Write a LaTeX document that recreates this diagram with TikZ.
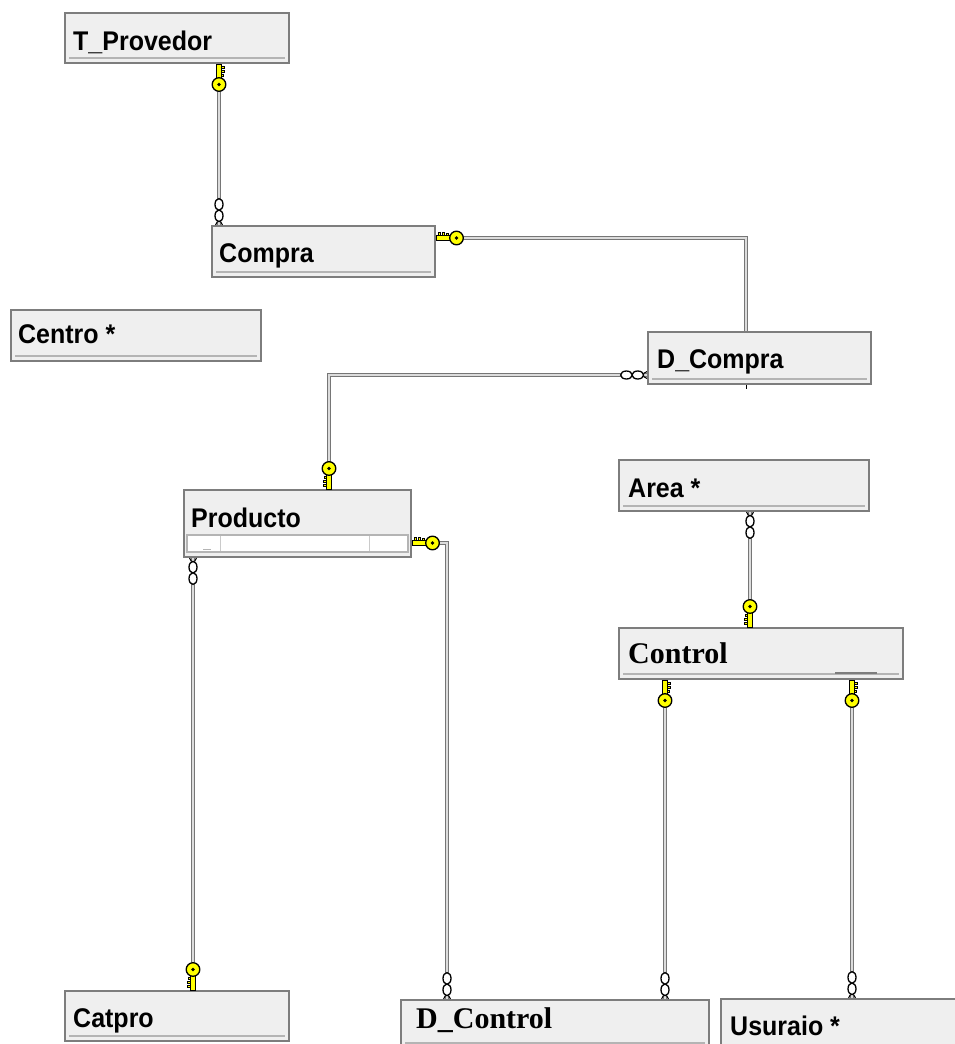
\documentclass[tikz,border=0pt]{standalone}
\usepackage{fontspec}
\newfontfamily\tahfont{Liberation Sans}
\newfontfamily\tmsfont{Liberation Serif}
\definecolor{boxfill}{HTML}{EFEFEF}
\definecolor{boxedge}{HTML}{7D7D7D}
\definecolor{innerln}{HTML}{B4B4B4}
\definecolor{connout}{HTML}{767676}
\definecolor{connin}{HTML}{DCDCDC}
\definecolor{keyyel}{HTML}{FFFF00}
\tikzset{
  tbl/.style={draw=boxedge, fill=boxfill, line width=2pt, inner sep=0pt, anchor=north west,
    path picture={\draw[innerln, line width=2.2pt]
      ([xshift=4pt,yshift=5pt]path picture bounding box.south west) --
      ([xshift=-4pt,yshift=5pt]path picture bounding box.south east);}},
  lblsans/.style={anchor=base west, inner sep=0pt, yscale=1.08, transform shape,
    font=\tahfont\bfseries\fontsize{25}{30}\selectfont},
  lblserif/.style={anchor=base west, inner sep=0pt, font=\tmsfont\bfseries\fontsize{30}{34}\selectfont},
  conn/.style={draw=connout, double=connin, line width=1.3pt, double distance=2.2pt},
  keysym/.pic={
    \draw[black, line width=1pt, fill=keyyel] (-2.4,0) rectangle (2.4,14.5);
    \draw[black, line width=0.8pt, fill=keyyel] (2.4,2.2) rectangle (5.2,4.6);
    \draw[black, line width=0.8pt, fill=keyyel] (2.4,6.4) rectangle (5.2,8.8);
    \draw[black, line width=0.8pt, fill=keyyel] (2.4,10.6) rectangle (4.2,12.4);
    \draw[black, line width=1.3pt, fill=keyyel] (0,20.5) circle (6.8pt);
    \fill[black] (0,20.5) circle (1.8pt);
  },
  chainsym/.pic={
    \draw[black, line width=1.1pt] (-3.4,0) -- (-1.6,3.5) (3.4,0) -- (1.6,3.5);
    \draw[black, line width=1.3pt, fill=white] (0,9.2) ellipse (4pt and 5.8pt);
    \draw[black, line width=1.3pt, fill=white] (0,20.6) ellipse (4pt and 5.8pt);
  }
}
\begin{document}
\begin{tikzpicture}[x=1pt,y=-1pt]
\useasboundingbox (0,0) rectangle (955,1044);
\clip (0,0) rectangle (955,1044);
\fill[white] (0,0) rectangle (955,1044);

% tables
\node[tbl, minimum width=224pt, minimum height=50pt] (tprov) at (64,12) {};
\node[tbl, minimum width=223pt, minimum height=51pt] (compra) at (211,225) {};
\node[tbl, minimum width=250pt, minimum height=51pt] (centro) at (10,309) {};
\node[tbl, minimum width=223pt, minimum height=52pt] (dcompra) at (647,331) {};
\node[tbl, minimum width=227pt, minimum height=67pt] (producto) at (183,489) {};
\node[tbl, minimum width=250pt, minimum height=51pt] (area) at (618,459) {};
\node[tbl, minimum width=284pt, minimum height=51pt] (control) at (618,627) {};
\node[tbl, minimum width=224pt, minimum height=50pt] (catpro) at (64,990) {};
\node[tbl, minimum width=308pt, minimum height=48pt] (dcontrol) at (400,999) {};
\node[tbl, minimum width=250pt, minimum height=55pt] (usuraio) at (720,998) {};

% Producto scroll strip
\draw[innerln, fill=white, line width=1.5pt] ([xshift=4pt,yshift=6pt]producto.south west) rectangle ([xshift=-4pt,yshift=23pt]producto.south east);
\draw[innerln!70, line width=1pt] ([xshift=37pt,yshift=7pt]producto.south west) -- ([xshift=37pt,yshift=22pt]producto.south west);
\draw[innerln!70, line width=1pt] ([xshift=186pt,yshift=7pt]producto.south west) -- ([xshift=186pt,yshift=22pt]producto.south west);
\draw[innerln, line width=1pt] ([xshift=20pt,yshift=9pt]producto.south west) -- ([xshift=28pt,yshift=9pt]producto.south west);

% Control bottom line detail
\draw[boxedge, line width=1.5pt] ([xshift=-69pt,yshift=7pt]control.south east) -- ([xshift=-27pt,yshift=7pt]control.south east);
% D_Compra tick
\draw[black, line width=1pt] (746,0 |- dcompra.south) -- ++(0,4);

% labels
\node[lblsans] (tprov-l) at ([xshift=9pt,yshift=-38pt]tprov.north west) {T\_Provedor};
\node[lblsans] (compra-l) at ([xshift=8pt,yshift=-37pt]compra.north west) {Compra};
\node[lblsans] (centro-l) at ([xshift=8pt,yshift=-34pt]centro.north west) {Centro *};
\node[lblsans] (dcompra-l) at ([xshift=10pt,yshift=-37pt]dcompra.north west) {D\_Compra};
\node[lblsans] (producto-l) at ([xshift=8pt,yshift=-38pt]producto.north west) {Producto};
\node[lblsans] (area-l) at ([xshift=10pt,yshift=-38pt]area.north west) {Area *};
\node[lblserif] (control-l) at ([xshift=10pt,yshift=-36pt]control.north west) {Control};
\node[lblsans] (catpro-l) at ([xshift=9pt,yshift=-37pt]catpro.north west) {Catpro};
\node[lblserif] (dcontrol-l) at ([xshift=16pt,yshift=-29pt]dcontrol.north west) {D\_Control};
\node[lblsans] (usuraio-l) at ([xshift=10pt,yshift=-37pt]usuraio.north west) {Usuraio *};

% connectors
\draw[conn] (219,0 |- tprov.south) -- (219,0 |- compra.north);
\draw[conn] (compra.east |- 0,238) -- (746,238) -- (746,0 |- dcompra.north);
\draw[conn] (dcompra.west |- 0,375) -- (329,375) -- (329,0 |- producto.north);
\draw[conn] (193,0 |- producto.south) -- (193,0 |- catpro.north);
\draw[conn] (producto.east |- 0,543) -- (447,543) -- (447,0 |- dcontrol.north);
\draw[conn] (750,0 |- area.south) -- (750,0 |- control.north);
\draw[conn] (665,0 |- control.south) -- (665,0 |- dcontrol.north);
\draw[conn] (852,0 |- control.south) -- (852,0 |- usuraio.north);

% key ends
\pic at (219,0 |- tprov.south) {keysym};
\pic[rotate=90] at (compra.east |- 0,238) {keysym};
\pic[rotate=180] at (329,0 |- producto.north) {keysym};
\pic[rotate=180] at (193,0 |- catpro.north) {keysym};
\pic[rotate=90] at (producto.east |- 0,543) {keysym};
\pic[rotate=180] at (750,0 |- control.north) {keysym};
\pic at (665,0 |- control.south) {keysym};
\pic at (852,0 |- control.south) {keysym};

% many ends
\pic[rotate=180] at (219,0 |- compra.north) {chainsym};
\pic[rotate=-90] at (dcompra.west |- 0,375) {chainsym};
\pic at (193,0 |- producto.south) {chainsym};
\pic[rotate=180] at (447,0 |- dcontrol.north) {chainsym};
\pic at (750,0 |- area.south) {chainsym};
\pic[rotate=180] at (665,0 |- dcontrol.north) {chainsym};
\pic[rotate=180] at (852,0 |- usuraio.north) {chainsym};
\end{tikzpicture}
\end{document}
